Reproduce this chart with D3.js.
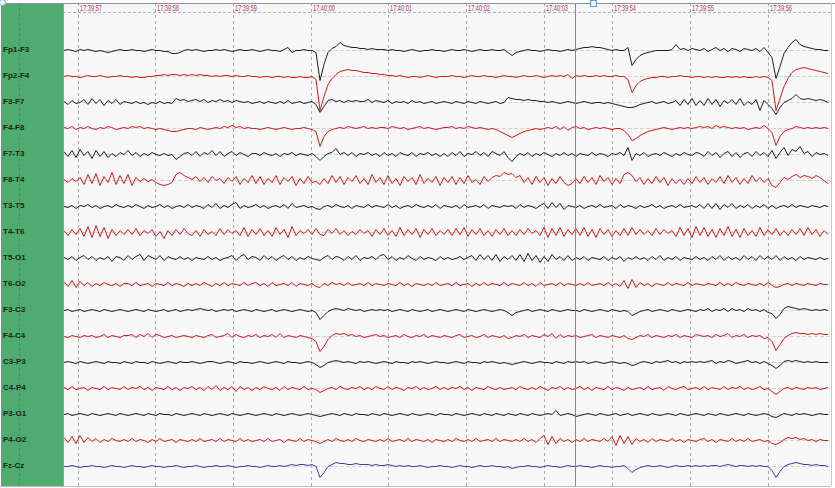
<!DOCTYPE html>
<html><head><meta charset="utf-8">
<script src="https://cdn.jsdelivr.net/npm/d3@7/dist/d3.min.js"></script>
<style>html,body{margin:0;padding:0;background:#fff}svg{display:block}</style>
</head><body><svg id="c" width="835" height="488"></svg>
<script>
// ---------- data ----------
const channels = ["Fp1-F3","Fp2-F4","F3-F7","F4-F8","F7-T3","F8-T4","T3-T5","T4-T6","T5-O1","T6-O2","F3-C3","F4-C4","C3-P3","C4-P4","P3-O1","P4-O2","Fz-Cz"];
const tickLabels = ["17:39:57","17:39:58","17:39:59","17:40:00","17:40:01","17:40:02","17:40:03","17:39:54","17:39:55","17:39:56"];
const cursorTime = "17:40:03.4";

const fp1f3 = [0,1,0,-1,1,0,1,0,-1,0,-1,-2,-1,0,1,0, 0,1,0,0,-1,0,1,0,0,-1,-1,-3,-3,-2,0,1, 0,1,0,-1,0,0,1,0,1,0,-1,0,1,0,0,1, 0,-1,0,1,0,0,-1,1,3,-2,0,0,1,0,0,-2,
 -30,-14,-2,2,4,8,5,4,3,3,2,2,1,2,1,1, 1,0,1,0,0,-1,0,1,0,-1,0,0,1,0,0,-1, 0,1,0,0,1,0,-1,0,1,0,0,1,0,0,1,-2, -5,-2,-1,0,1,0,0,-1,0,1,0,0,-1,0,1,0,
 1,2,3,3,4,3,3,2,1,0,1,0,0,3,-15,-9, -5,-3,-2,-1,0,0,0,0,1,6,1,2,0,2,1,0, 2,-1,1,3,0,2,-1,2,1,-1,2,1,0,2,-1,3, -2,-7,-28,-16,-3,3,8,11,6,4,3,2,1,1,0,0];
const fp2f4 = [0,1,0,0,-1,0,1,0,0,1,0,-1,0,0,1,0, 0,-1,0,-1,-1,0,0,1,1,2,1,2,2,1,2,1, 2,1,2,1,1,0,1,0,1,1,0,1,0,0,1,0, 0,-1,0,0,-1,0,0,-1,0,-1,-1,0,-1,-1,0,-3,
 -34,-20,-8,-2,2,5,6,7,6,6,5,4,4,3,3,2, 2,1,1,0,1,0,-1,0,0,-1,0,1,0,-1,0,0, 0,1,0,0,-1,0,1,0,0,1,0,0,-1,0,1,0, 0,-1,0,1,0,0,1,0,-1,0,1,0,1,0,2,-2,
 1,0,1,0,0,1,0,1,0,0,1,0,0,-3,-16,-9, -5,-3,-2,-1,-1,0,0,-1,0,0,1,0,0,-1,0,0, -1,0,-1,0,-1,-1,0,-1,0,-1,0,-1,-1,0,-1,0, -1,-4,-34,-22,-10,-2,4,7,8,9,8,7,6,5,4,3];
const f3f7 = [1,-2,2,-1,0,3,-2,4,-1,3,-3,2,-1,3,-2,1, 0,-1,1,-1,0,-2,0,-1,1,-1,0,-1,4,2,3,1, 2,3,1,3,0,2,1,3,1,2,0,2,1,0,1,-1, 0,1,-1,1,0,-1,1,-1,2,-1,0,1,-1,0,1,-2,
 -10,-4,2,3,1,2,0,2,1,2,1,1,3,0,2,1, 0,2,-1,1,0,1,-1,2,0,1,-1,0,1,-1,0,1, 0,-1,1,0,-1,1,0,-1,1,0,-1,0,1,-1,0,5, 4,3,3,2,3,2,2,1,1,0,1,0,-1,0,1,0,
 -1,0,1,0,-1,0,0,-1,0,-1,-2,-3,-4,-5,-5,-4, -2,-1,0,1,-1,0,1,-1,0,2,-3,3,-2,4,-3,2, -3,4,-2,3,-4,2,-1,3,-2,4,-3,1,-2,3,-8,2, -2,-6,-12,-5,0,2,4,8,4,3,4,3,2,3,2,0];
const f4f8 = [1,0,2,-1,1,0,2,0,-1,1,0,2,1,-1,0,1, 0,2,1,2,0,1,0,-1,0,-1,-2,-3,-3,-2,-1,0, 0,-1,1,0,-1,0,1,0,2,1,3,1,2,0,1,0, 0,-1,0,1,0,-1,0,1,0,-1,0,0,1,0,-1,-3,
 -18,-8,-3,-1,0,1,0,2,1,0,1,2,0,1,0,1, 1,0,2,1,0,1,-1,0,1,2,0,1,0,-1,0,1, 1,2,0,1,0,2,1,0,1,0,-1,0,-1,-3,-5,-7, -9,-7,-5,-3,-2,-1,0,-1,0,1,0,2,-1,2,-2,1,
 2,0,1,-1,0,1,0,1,0,-1,0,0,-2,-6,-12,-10, -7,-5,-3,-2,-1,0,1,0,-1,0,1,0,1,0,1,2, 1,2,0,3,1,2,1,0,1,0,1,-1,0,1,0,3, 0,-4,-17,-8,-3,-1,0,2,1,0,1,0,1,0,1,0];
const f7t3 = [3,-2,4,-3,5,-1,3,-4,4,-2,3,-3,1,-2,2,0, 4,-1,2,-2,1,-1,2,0,-1,1,-1,0,-5,-2,1,2, -1,3,-2,2,0,4,-1,3,-2,1,3,-1,2,0,-2,1, 1,-1,2,0,-1,1,-2,1,0,2,-1,1,0,-1,1,-2,
 -6,-2,1,2,6,0,2,-1,2,-2,1,0,2,-1,1,-2, 2,-1,1,-2,2,0,-1,2,-2,1,0,2,-1,1,-2,1, -2,2,-1,3,-2,1,0,3,-1,2,-2,3,1,-1,3,-3, -7,-2,1,-1,2,-2,1,-1,2,0,-2,1,-1,2,-1,1,
 -2,1,0,-1,2,-1,1,0,-2,1,0,2,-1,7,-6,1, -1,2,-2,0,1,-1,2,0,-2,1,-1,2,0,-1,2,1, -2,3,-1,2,-3,1,3,-2,2,-3,1,2,-2,3,-1,2, -2,4,-4,2,7,-1,5,3,8,1,3,-2,2,0,1,-1];
const f8t4 = [1,-2,2,-1,3,-4,6,-3,7,-5,4,-2,8,-4,5,-3, 6,-5,3,-1,2,-1,1,-2,-4,-5,-4,-2,6,8,5,3, 1,4,-1,3,-2,4,0,2,-3,3,-1,4,-4,2,-2,5, -3,4,-4,2,-2,5,-4,3,-1,4,-5,2,-3,4,-2,-1,
 -4,2,-3,5,-2,4,-4,3,-1,5,-3,2,-4,6,-2,3, -4,5,-3,2,-5,4,-1,3,-4,6,-3,2,-2,4,-5,3, -2,4,-4,3,-3,5,-2,1,-4,4,-1,3,5,4,8,6, 7,3,5,-2,3,-4,4,-2,3,-5,2,-3,4,-2,-5,-3,
 2,-3,4,-2,3,-4,5,-1,3,-4,2,-3,6,8,5,-1, 3,-4,2,-3,4,-2,3,-5,2,-3,1,-4,2,-3,4,-2, 3,-4,2,-2,4,-3,5,-2,3,-4,2,-3,5,-1,3,-2, 2,-5,-7,-2,3,1,4,6,3,5,4,2,5,3,0,-3];
const t3t5 = [0,-1,1,-2,1,0,2,-1,1,-2,0,1,-1,2,0,-1, 1,-1,2,0,-2,1,-1,0,2,-1,1,-2,0,1,-1,2, -1,1,0,-2,2,-1,3,-2,1,-1,2,4,-2,1,-1,0, 2,-1,1,-2,0,1,-1,2,-2,3,-1,0,1,-1,0,-2,
 -3,0,1,-1,2,0,-1,1,-2,1,0,-1,2,-1,1,0, -1,2,-1,1,-2,0,1,-1,2,0,-1,1,-1,2,-2,1, 0,-1,1,-2,2,-1,0,1,-1,2,-2,1,0,-1,1,0, 1,-2,2,-1,1,0,-2,1,3,-2,4,-1,3,-3,1,0,
 -1,1,-2,0,1,-1,2,-1,0,1,-2,2,-1,1,0,-2, 1,-1,0,2,-1,1,-2,0,1,-1,2,-1,0,1,-1,2, -2,3,-2,3,-3,2,-1,3,-2,1,-1,2,-2,1,-1,2, -2,1,-2,0,1,-1,2,-1,1,0,-1,1,0,-1,1,0];
const t4t6 = [2,-3,3,-2,4,-4,6,-5,7,-4,5,-6,3,-3,2,-2, 3,-2,4,-3,2,-1,3,-4,1,-6,2,-3,3,-2,4,-1, -3,2,-4,3,-2,1,-3,4,-2,3,-1,2,-3,5,-4,3, -2,4,-3,2,-4,5,-2,3,-5,6,-3,2,-1,3,-2,4,
 -2,-3,3,-1,4,-2,2,-3,1,-2,3,-1,2,-4,3,-2, 4,-3,2,-4,5,-3,3,-2,4,-5,3,-2,4,-3,2,-2, 3,-3,4,-2,5,-4,3,-2,4,-3,2,-4,3,-2,4,-3, 2,-3,3,-2,4,-1,2,-3,5,-5,4,-3,5,-4,3,-2,
 4,-3,5,-4,3,-5,4,-2,3,-4,2,-3,4,-3,5,-2, 3,-2,2,-3,4,-2,3,-1,2,-4,5,-3,4,-5,6,-3, 5,-4,3,-5,4,-3,6,-4,3,-5,4,-3,2,-4,5,-3, 3,-2,4,-3,2,-3,3,-2,4,-3,5,-2,3,-4,2,-2];
const t5o1 = [1,-1,2,-2,1,3,-1,2,-2,1,-1,2,-3,2,1,-2, 3,-1,2,4,-2,3,1,-1,3,-2,2,0,-1,2,-1,1, -2,1,0,-1,2,-1,1,-2,0,1,3,-2,2,4,-1,2, 1,-2,3,-1,2,-2,1,3,-1,2,-2,1,-1,2,0,-1,
 -2,1,3,-1,2,1,-2,2,-1,3,-2,1,0,2,-1,3, 4,-1,2,-2,1,-1,3,0,-2,2,-1,1,0,-2,2,-1, 1,-1,0,2,-1,1,3,-2,4,-1,3,-2,4,-3,2,-1, 3,-2,4,-3,5,-2,3,-4,2,-3,4,-1,2,-2,3,-2,
 1,-1,2,-2,1,0,-1,2,-2,1,-1,2,-3,1,-1,2, -1,1,-2,2,-1,3,-2,1,-1,2,-2,1,0,-1,2,-1, 1,-2,2,-1,3,-2,2,-1,1,-2,3,-1,2,-2,3,-1, 2,-1,3,-2,2,-1,1,-2,2,-1,1,0,-1,1,-1,0];
const t6o2 = [3,-2,4,-3,3,-1,2,-2,1,-1,2,0,-1,1,-2,1, 1,-1,2,-1,0,1,-2,1,0,-1,2,-1,1,0,-2,1, -1,1,-1,2,0,-2,1,-1,2,-1,1,0,-1,2,-1,1, 2,-1,1,-2,2,-1,0,1,-1,2,-2,1,0,-1,1,-2,
 -3,1,-1,2,0,1,-1,2,-1,0,1,-1,2,-1,1,0, -1,1,0,-1,2,-1,1,-2,1,0,-1,1,-1,2,-1,0, 1,-1,2,-1,0,1,-2,1,-1,2,-1,1,0,-1,2,-1, 1,0,-1,2,-1,1,-2,2,-1,0,1,-1,2,-1,1,0,
 -1,1,-1,2,-1,0,1,-1,2,-1,1,-2,4,-4,5,-3, 2,-1,1,-2,1,0,-1,2,-1,1,0,-1,2,-1,1,0, -1,1,0,-1,2,-1,1,-1,2,0,-1,1,0,-1,1,-1, 2,-1,-3,-2,0,1,-1,1,0,-1,1,0,-1,1,0,0];
const f3c3 = [0,1,-1,0,1,-1,0,1,0,-1,1,0,-1,0,1,0, -1,0,1,0,-1,1,0,-1,0,1,-1,0,1,-1,0,1, 0,1,2,1,0,1,-1,0,1,0,1,-1,0,1,0,-1, 1,0,-1,0,1,-1,0,1,0,-1,0,1,0,-1,0,-2,
 -9,-5,-1,1,2,1,0,2,1,0,1,-1,0,1,0,1, 0,1,-1,0,1,0,-1,1,0,-1,0,1,-1,0,1,0, -1,0,1,0,-1,1,0,-1,0,1,0,-1,0,1,0,-2, -5,-2,-1,0,1,-1,0,1,0,-1,1,0,-1,0,1,0,
 0,-1,1,0,-1,0,1,0,-1,1,0,-1,0,-1,-5,-3, -1,0,1,-1,0,1,0,-1,1,0,-1,0,1,0,-1,1, 0,2,-1,1,0,2,-1,2,0,1,-1,2,0,1,-1,1, -2,-3,-8,-4,2,4,3,2,1,2,1,0,1,0,1,0];
const f4c4 = [0,-1,1,0,-1,1,0,1,-1,0,2,-1,1,0,-1,1, 1,2,-1,2,0,3,-1,2,1,-1,0,1,-1,0,1,0, -1,1,0,-1,1,2,-1,0,1,3,-1,2,0,-1,1,0, 2,-1,1,0,2,-1,3,-1,1,0,-1,1,0,-1,-2,-5,
 -15,-10,-3,1,3,2,3,1,2,0,1,-1,0,1,2,0, 1,-1,0,1,-1,2,0,-1,1,0,2,-1,1,0,-1,1, 0,-1,1,2,-1,0,1,-1,0,2,-1,1,0,-1,1,-2, -1,1,0,2,-1,1,0,-1,2,0,3,-2,2,-1,1,0,
 1,-1,0,1,2,-1,1,0,-1,1,0,-1,1,-2,-3,-1, 1,0,2,-1,1,0,-1,1,0,2,-1,1,0,-1,2,1, 0,1,-1,2,0,1,3,-1,1,0,2,-1,1,0,1,-2, -1,-5,-14,-8,-2,1,3,4,3,3,2,3,2,3,2,2];
const c3p3 = [0,1,0,-1,1,0,-1,0,1,0,-1,1,0,0,-1,1, 0,-1,1,0,0,-1,1,0,-1,0,1,0,-1,1,0,0, 1,0,-1,0,1,1,0,-1,0,1,0,-1,1,0,0,-1, 0,1,0,-1,0,1,0,-1,1,0,0,-1,0,1,0,-2,
 -5,-3,0,1,2,1,0,1,0,-1,1,0,1,0,-1,0, 1,0,-1,1,0,0,-1,1,0,1,0,-1,0,1,0,0, -1,0,1,0,-1,1,0,0,-1,1,0,1,0,-1,0,-1, -2,-1,0,1,0,-1,0,1,0,0,-1,1,0,-1,1,0,
 1,0,1,-1,0,1,0,-1,0,1,0,-1,0,-1,-3,-2, 0,1,0,-1,1,0,1,2,0,1,-1,1,0,1,0,1, 0,1,2,-1,1,0,2,1,-1,0,1,2,0,1,-1,1, -1,-3,-6,-3,1,2,1,2,1,0,1,0,1,0,0,0];
const c4p4 = [1,-1,2,-1,0,1,-2,1,0,-1,2,-1,1,0,-1,2, -1,1,0,2,-1,1,-2,1,0,-1,2,-1,1,-2,1,0, 2,-1,1,-2,2,-1,3,-2,1,-1,2,-3,2,-1,1,-2, 1,-1,2,0,-1,1,-2,2,-1,1,0,-1,2,-1,0,-1,
 -4,-2,0,1,-1,2,0,-1,1,0,2,-1,1,-1,2,0, -1,2,-1,1,0,-2,1,0,2,-1,1,-1,0,2,-1,1, -1,1,0,2,-1,1,-2,1,0,-1,2,0,-1,1,-1,0, 1,-1,2,0,-1,1,-1,2,0,-2,1,0,2,-1,1,-1,
 0,2,-1,1,-2,1,0,-1,2,-1,1,0,-2,1,-1,0, 1,-1,2,-1,0,1,-2,2,0,-1,1,2,-1,0,1,-1, 2,-1,1,0,-1,2,-1,1,0,2,-1,1,-1,0,2,-1, 0,-3,-6,-3,0,1,-1,1,0,-1,1,0,1,-1,0,1];
const p3o1 = [0,1,-1,0,1,0,-1,1,0,-1,0,1,0,-1,1,0, -1,0,1,0,-1,1,0,-1,1,0,0,-1,1,0,-1,0, 1,0,-1,1,0,-1,0,1,0,-1,1,0,-1,0,1,0, -1,0,1,0,-1,1,0,-1,0,1,0,-1,0,1,0,-1,
 -2,-1,0,1,0,-1,1,0,-1,1,0,0,-1,1,0,-1, 1,0,-1,0,1,0,-1,1,0,-1,0,1,0,-1,1,0, 0,-1,1,0,-1,0,1,0,-1,1,0,-1,1,0,-1,1, 0,-1,1,0,-1,1,0,-1,0,1,0,4,-1,0,1,0,
 -2,-1,0,1,0,-1,1,0,-1,0,1,-1,0,1,-1,0, 1,0,-1,1,0,-1,0,1,0,-1,1,0,-1,0,1,0, -1,1,0,-1,1,0,-1,0,1,0,-1,1,0,-1,0,1, 0,-2,-3,-1,1,0,-1,1,0,1,0,-1,0,1,0,0];
const p4o2 = [3,-2,4,-3,5,-2,3,-1,2,-2,1,-1,2,0,-1,1, -1,2,-1,1,0,-2,1,-1,2,-1,0,1,-2,1,0,-1, 1,-1,2,-1,0,1,-1,2,-1,1,0,-1,2,-1,1,-1, 0,1,-1,2,-1,0,1,-2,1,0,-1,2,-1,1,0,-1,
 -3,-1,1,-1,2,0,-1,1,-1,2,0,-1,1,0,-1,1, -1,2,-1,0,1,-1,2,-1,1,0,-1,1,-2,1,0,-1, 1,-1,2,0,-1,1,-1,2,-1,0,1,-1,2,-1,1,0, -1,1,-1,2,-1,1,-2,2,5,-4,4,-3,2,-1,1,-2,
 1,-1,2,-1,1,0,-1,2,-1,4,-5,5,-3,4,-4,2, -1,1,-2,2,-1,1,0,-1,2,-1,1,-2,1,0,-1,1, 2,-1,1,-2,1,0,-1,2,-1,1,-1,2,-1,0,1,-1, 0,-3,-4,-2,1,3,2,3,1,2,0,1,-1,1,0,0];
const fzcz = [0,0,1,0,-1,0,0,1,0,0,-1,0,1,0,0,-1, 0,1,0,0,-1,0,1,0,0,-1,0,0,1,0,-1,0, 0,1,0,-1,0,0,1,0,0,1,0,-1,0,0,1,0, 0,-1,0,1,0,0,1,0,1,2,1,2,2,1,2,0,
 -11,-6,0,2,4,3,3,2,2,3,2,2,2,1,2,1, 1,2,1,0,1,0,1,0,0,1,0,-1,0,0,1,0, 0,-1,0,1,0,0,-1,0,1,0,0,1,0,0,-1,0, -2,-1,0,0,1,0,0,-1,0,1,0,0,-1,0,1,0,
 0,1,0,0,-1,0,1,0,0,-1,0,0,1,-2,-6,-3, -1,0,1,0,0,1,0,-1,0,1,0,0,1,0,1,0, 1,0,1,1,0,1,2,1,0,1,1,0,1,0,1,0, 0,-4,-11,-5,0,2,3,4,3,2,2,1,2,1,1,0];

const series = [fp1f3,fp2f4,f3f7,f4f8,f7t3,f8t4,t3t5,t4t6,t5o1,t6o2,f3c3,f4c4,c3p3,c4p4,p3o1,p4o2,fzcz];

// ---------- drawing ----------
const W = 835, H = 488;
const svg = d3.select("#c");
const P = {x0: 63, x1: 831, y0: 3, y1: 486, head: 12};
const toSec = s => { const [h,m,ss] = s.split(":").map(Number); return h*3600 + m*60 + ss; };

svg.append("rect").attr("width", W).attr("height", H).attr("fill", "#ffffff");
svg.append("rect").attr("x", P.x0).attr("y", P.y0).attr("width", P.x1 - P.x0).attr("height", P.y1 - P.y0).attr("fill", "#f7f7f7");
svg.append("rect").attr("x", 1).attr("y", P.y0).attr("width", P.x0 - 1).attr("height", P.y1 - P.y0).attr("fill", "#50ab70");
svg.append("line").attr("x1", 19.5).attr("x2", 19.5).attr("y1", P.y0).attr("y2", P.y1)
  .attr("stroke", "#3f9460").attr("stroke-width", 1).attr("stroke-dasharray", "3,2");

// time scales (display wraps at the cursor)
const newSweep = d3.scaleLinear().domain([toSec("17:39:57"), toSec("17:40:03")]).range([77.5, 543.7]);
const oldSweep = d3.scaleLinear().domain([toSec("17:39:54"), toSec("17:39:56")]).range([612.3, 768]);
const cursorSec = toSec(cursorTime);
const tickX = t => { const s = toSec(t); return s <= cursorSec && s >= toSec("17:39:57") ? newSweep(s) : oldSweep(s); };

// header line
svg.append("line").attr("x1", P.x0).attr("x2", P.x1).attr("y1", P.head + 0.5).attr("y2", P.head + 0.5)
  .attr("stroke", "#b0b0b0").attr("stroke-dasharray", "3,2");

// vertical grid
const grid = svg.append("g");
tickLabels.forEach(t => {
  const x = Math.round(tickX(t)) + 0.5;
  grid.append("line").attr("x1", x).attr("x2", x).attr("y1", P.y0).attr("y2", P.y1)
    .attr("stroke", "#a8a8a8").attr("stroke-width", 1).attr("stroke-dasharray", "3,3");
  grid.append("text").attr("x", x + 1.5).attr("y", 10.5).text(t)
    .attr("font-family", "Liberation Sans, Arial, sans-serif").attr("font-size", 8.5)
    .attr("textLength", 22).attr("lengthAdjust", "spacingAndGlyphs")
    .attr("fill", "#a8386a");
});

// channel positions
const yBase = d3.scalePoint().domain(channels).range([50.5, 466.5]);
const amp = d3.scaleLinear().domain([0, 1]).range([0, -1]);

// faint baselines
svg.append("g").selectAll("line").data(channels).join("line")
  .attr("x1", P.x0 + 1).attr("x2", P.x1).attr("y1", d => yBase(d)).attr("y2", d => yBase(d))
  .attr("stroke", "#d2d2d2").attr("stroke-width", 1).attr("stroke-dasharray", "4,2");

const colorOf = i => i === channels.length - 1 ? "#3d3da6" : (i % 2 ? "#cc1c1c" : "#1e1e1e");

const traces = svg.append("g");
series.forEach((vals, i) => {
  const xs = d3.scaleLinear().domain([0, vals.length - 1]).range([64, 828]);
  const b = yBase(channels[i]);
  const line = d3.line().x((d, j) => xs(j)).y(d => b + amp(d));
  traces.append("path").attr("d", line(vals)).attr("fill", "none")
    .attr("stroke", colorOf(i)).attr("stroke-width", 1).attr("stroke-linejoin", "round");
});

// channel labels
svg.append("g").selectAll("text").data(channels).join("text")
  .attr("x", 3).attr("y", d => yBase(d) + 1.5).text(d => d)
  .attr("font-family", "Liberation Sans, Arial, sans-serif").attr("font-weight", "bold")
  .attr("font-size", 8).attr("fill", "#142814");

// cursor
const cx = Math.round(newSweep(cursorSec)) + 0.5;
svg.append("line").attr("x1", cx).attr("x2", cx).attr("y1", P.y0).attr("y2", P.y1)
  .attr("stroke", "#4f95d6").attr("stroke-width", 1);

// frame
svg.append("line").attr("x1", 0).attr("x2", W).attr("y1", P.y0 + 0.5).attr("y2", P.y0 + 0.5).attr("stroke", "#8a9099");
svg.append("line").attr("x1", P.x0 + 0.5).attr("x2", P.x0 + 0.5).attr("y1", P.y0).attr("y2", P.y1).attr("stroke", "#9aa09a");
svg.append("line").attr("x1", P.x1 + 0.5).attr("x2", P.x1 + 0.5).attr("y1", P.y0).attr("y2", P.y1).attr("stroke", "#c8c8c8");
svg.append("line").attr("x1", 0).attr("x2", P.x1).attr("y1", P.y1 + 0.5).attr("y2", P.y1 + 0.5).attr("stroke", "#c0c0c0");
svg.append("circle").attr("cx", 2.5).attr("cy", 2.5).attr("r", 3).attr("fill", "#f4f8fc").attr("stroke", "#8aa6c2");
svg.append("rect").attr("x", 590.5).attr("y", 0.5).attr("width", 6).attr("height", 6)
  .attr("fill", "#e8f0f8").attr("stroke", "#6a9bc8");
</script></body></html>
